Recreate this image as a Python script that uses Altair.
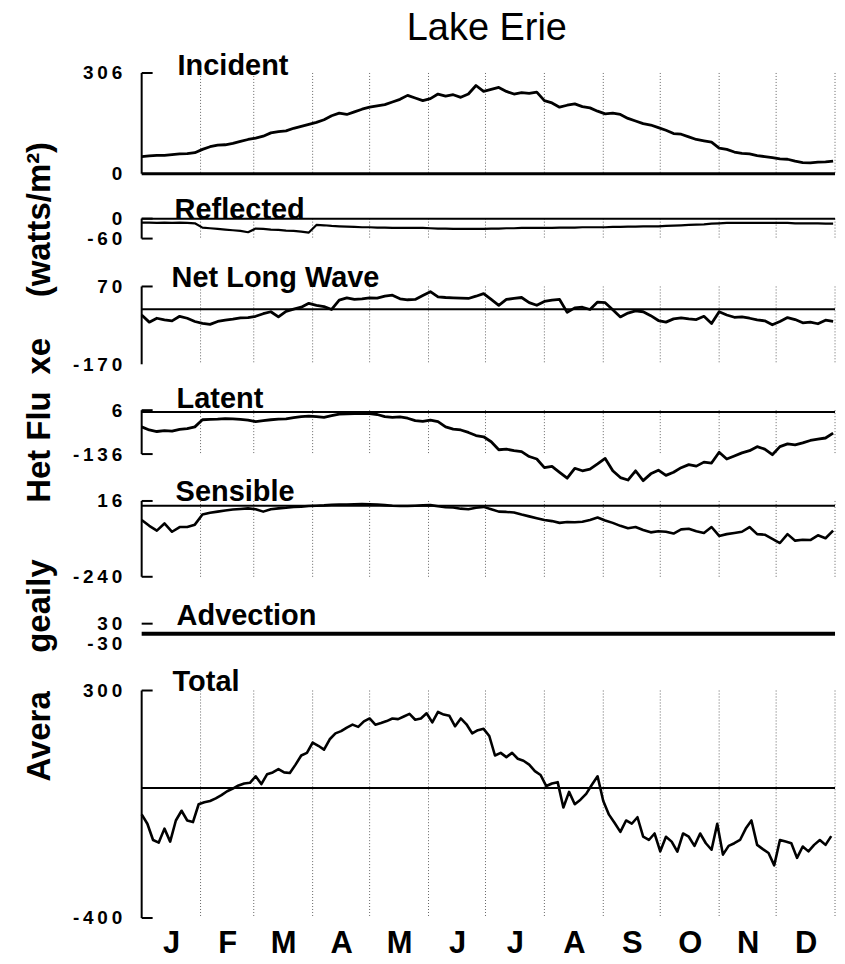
import altair as alt
import pandas as pd

FONT = "Liberation Sans"

# ---------------------------------------------------------------- data
MONTH_LETTERS = ["J", "F", "M", "A", "M", "J", "J", "A", "S", "O", "N", "D"]
MONTH_MID_DAYS = [15.5, 45, 74.5, 105, 135.5, 166, 196.5, 227.5, 258, 288.5, 319, 349.5]
MONTH_END_DAYS = [31, 59, 90, 120, 151, 181, 212, 243, 273, 304, 334, 365]

DAYS_4 = list(range(0, 365, 4))   # sampled every 4th day
DAYS_3 = list(range(0, 364, 3))   # sampled every 3rd day

INCIDENT = [
    52, 54, 56, 56, 58, 60, 61, 64,
    74, 82, 87, 88, 92, 98, 104, 108,
    114, 124, 128, 130, 138, 144, 150, 156,
    164, 176, 184, 180, 188, 196, 202, 206,
    210, 218, 226, 238, 230, 222, 228, 242,
    236, 240, 232, 242, 268, 250, 256, 262,
    250, 242, 246, 244, 248, 222, 215, 202,
    208, 212, 204, 200, 190, 182, 184, 180,
    168, 160, 152, 148, 140, 132, 122, 120,
    112, 104, 100, 96, 78, 74, 66, 62,
    60, 55, 52, 49, 45, 44, 38, 34,
    33, 35, 36, 38,
]

REFLECTED = [
    -12, -12, -13, -12, -13, -12, -13, -14,
    -27, -29, -31, -33, -35, -37, -41, -30,
    -31, -33, -34, -36, -37, -39, -42, -19,
    -20, -22, -23, -24, -25, -26, -26, -27,
    -27, -28, -28, -28, -28, -28, -29, -30,
    -30, -31, -31, -31, -31, -31, -30, -30,
    -29, -29, -28, -28, -28, -28, -28, -27,
    -27, -27, -26, -26, -26, -26, -25, -25,
    -24, -24, -23, -23, -23, -22, -21, -20,
    -19, -18, -17, -15, -14, -13, -13, -13,
    -13, -13, -13, -13, -13, -13, -14, -14,
    -14, -14, -15, -15,
]

NET_LONG_WAVE = [
    -18, -40, -28, -33, -36, -22, -28, -38,
    -44, -47, -38, -34, -31, -27, -26, -22,
    -14, -8, -24, -7, 0, 6, 18, 12,
    8, -1, 28, 35, 30, 32, 35, 34,
    40, 43, 32, 29, 30, 42, 54, 38,
    36, 35, 34, 33, 40, 48, 30, 12,
    30, 33, 36, 20, 12, 24, 28, 30,
    -10, 4, 6, -1, 22, 20, -2, -24,
    -12, -5, -8, -20, -35, -40, -30, -27,
    -30, -32, -22, -44, -8, -18, -25, -24,
    -28, -33, -36, -48, -38, -26, -32, -42,
    -40, -45, -34, -38,
]

LATENT = [
    -48, -58, -63, -60, -62, -56, -54, -48,
    -25, -24, -23, -21, -22, -24, -26, -31,
    -28, -25, -23, -22, -18, -15, -13, -15,
    -17, -12, -7, -6, -5, -4, -5, -8,
    -15, -17, -16, -20, -28, -30, -26, -31,
    -48, -55, -58, -66, -76, -80, -96, -122,
    -120, -125, -128, -144, -152, -180, -176, -195,
    -214, -182, -190, -185, -168, -150, -190, -212,
    -220, -190, -222, -200, -188, -205, -195, -180,
    -170, -175, -162, -165, -130, -152, -142, -132,
    -125, -112, -120, -138, -112, -103, -106, -100,
    -92, -88, -84, -68,
]

SENSIBLE = [
    -48, -68, -84, -60, -88, -72, -72, -64,
    -30, -24, -20, -16, -13, -11, -9, -12,
    -20, -12, -9, -7, -4, -3, -1, 0,
    1, 3, 4, 4, 5, 6, 5, 4,
    2, 0, -1, -1, 0, 1, 2, -2,
    -5, -6, -10, -12, -7, -4, -12, -20,
    -21, -23, -30, -36, -42, -48, -52, -58,
    -55, -56, -54, -48, -40, -50, -58, -68,
    -76, -72, -82, -90, -86, -88, -94, -80,
    -78, -86, -92, -72, -102, -96, -92, -88,
    -72, -96, -98, -112, -126, -96, -118, -115,
    -116, -100, -110, -84,
]

ADVECTION_DAYS = [0, 365]
ADVECTION = [0, 0]

TOTAL = [
    -81, -110, -160, -168, -125, -165, -100, -70,
    -100, -105, -50, -44, -40, -32, -22, -10,
    -2, 8, 14, 16, 36, 12, 42, 48,
    58, 48, 46, 72, 100, 108, 140, 130,
    118, 150, 168, 175, 186, 195, 188, 205,
    214, 195, 200, 206, 214, 212, 220, 228,
    210, 214, 230, 202, 234, 226, 222, 190,
    214, 196, 168, 178, 182, 160, 100, 108,
    95, 108, 90, 84, 72, 52, 40, 6,
    14, 18, -60, -12, -50, -36, -18, 10,
    36, -40, -82, -108, -135, -100, -110, -90,
    -150, -160, -140, -195, -150, -165, -196, -140,
    -150, -178, -140, -170, -190, -110, -205, -178,
    -170, -160, -125, -100, -175, -188, -200, -238,
    -160, -165, -170, -215, -180, -195, -175, -160,
    -175, -148,
]

# series: name, sample days, values, labelled axis range (top, bottom)
SERIES = [
    ("Incident", DAYS_4, INCIDENT, 306, 0),
    ("Reflected", DAYS_4, REFLECTED, 0, -60),
    ("Net Long Wave", DAYS_4, NET_LONG_WAVE, 70, -170),
    ("Latent", DAYS_4, LATENT, 6, -136),
    ("Sensible", DAYS_4, SENSIBLE, 16, -240),
    ("Advection", ADVECTION_DAYS, ADVECTION, 30, -30),
    ("Total", DAYS_3, TOTAL, 300, -400),
]

TITLE = "Lake Erie"
Y_TITLE_PIECES = ["Avera", "ge", "aily", "Het Flu", "xe", "(watts/m²)"]

# ---------------------------------------------------------------- layout
PLOT_W = 695
ORIGIN_X, ORIGIN_Y = 142, 60

# per panel: panel top/bottom px, px of the labelled top/bottom values,
# label position, line width, zero-line width, bracket ticks, bracket, grid
LAYOUT = [
    dict(ptop=60, pbot=195, top_px=72, bot_px=173, lx=178, ly=74, lw=2.8, zw=3.0, ticks="top", bracket=True, grid=True),
    dict(ptop=195, pbot=262, top_px=218, bot_px=238, lx=175, ly=218, lw=2.2, zw=2.0, ticks="both", bracket=True, grid=True),
    dict(ptop=262, pbot=385, top_px=286, bot_px=364, lx=172, ly=287, lw=2.8, zw=2.0, ticks="top", bracket=True, grid=True),
    dict(ptop=385, pbot=480, top_px=410, bot_px=454, lx=177, ly=408, lw=2.8, zw=2.0, ticks="both", bracket=True, grid=True),
    dict(ptop=480, pbot=605, top_px=501, bot_px=577, lx=176, ly=501, lw=2.6, zw=2.0, ticks="both", bracket=True, grid=True),
    dict(ptop=605, pbot=660, top_px=624, bot_px=644, lx=177, ly=625, lw=4.0, zw=0, ticks="top", bracket=False, grid=False),
    dict(ptop=660, pbot=922, top_px=691, bot_px=919, lx=173, ly=691, lw=2.6, zw=2.0, ticks="both", bracket=True, grid=True),
]

Y_TITLE_X = 40
Y_TITLE_CENTERS = [737, 634, 587, 447, 356, 219]

DAY_SCALE = alt.Scale(domain=[0, 365], nice=False, zero=False)


def spaced(text):
    return "\u2009".join(text)


def month_axis():
    letters = "[" + ",".join(f"'{m}'" for m in MONTH_LETTERS) + "]"
    mids = "[" + ",".join(str(d) for d in MONTH_MID_DAYS) + "]"
    return alt.Axis(
        values=MONTH_MID_DAYS, labelExpr=f"{letters}[indexof({mids}, datum.value)]",
        title=None, domain=False, ticks=False, tickSize=0, grid=False,
        labelFont=FONT, labelFontSize=31, labelFontWeight="bold", labelColor="black",
        labelPadding=8, labelFlush=False, labelOverlap=False,
    )


def make_panel(series, lay, first=False, last=False):
    name, days, values, top, bottom = series
    px_per_unit = (lay["bot_px"] - lay["top_px"]) / (top - bottom)
    y_hi = top + (lay["top_px"] - lay["ptop"]) / px_per_unit
    y_lo = bottom - (lay["pbot"] - lay["bot_px"]) / px_per_unit
    height = lay["pbot"] - lay["ptop"]
    yscale = alt.Scale(domain=[y_lo, y_hi], nice=False, zero=False)

    label_expr = (
        f"datum.value == {top} ? '{spaced(str(top))}' : "
        f"datum.value == {bottom} ? '{spaced(str(bottom))}' : ''"
    )
    # every layer carries the same axis definitions so they merge cleanly
    y_axis = alt.Axis(
        values=[top, bottom], labelExpr=label_expr, title=None,
        domain=False, ticks=False, tickSize=0, grid=False,
        labelFont=FONT, labelFontSize=19, labelFontWeight="bold", labelColor="black",
        labelPadding=20, labelOverlap=False,
    )
    x_axis = month_axis() if last else None

    def X(field):
        return alt.X(field, scale=DAY_SCALE, axis=x_axis)

    def Y(field):
        return alt.Y(field, scale=yscale, axis=y_axis)

    layers = []
    if lay["grid"]:
        grid_df = pd.DataFrame({"day": MONTH_END_DAYS, "hi": top, "lo": bottom})
        layers.append(
            alt.Chart(grid_df).mark_rule(color="#555", strokeWidth=0.9, strokeDash=[1, 2]).encode(
                x=X("day:Q"), y=Y("hi:Q"), y2="lo:Q",
            )
        )
    if lay["zw"] > 0:
        zero_df = pd.DataFrame({"start": [0], "end": [365], "zero": [0]})
        layers.append(
            alt.Chart(zero_df).mark_rule(color="black", strokeWidth=lay["zw"]).encode(
                x=X("start:Q"), x2="end:Q", y=Y("zero:Q"),
            )
        )
    if lay["bracket"]:
        br_df = pd.DataFrame({"hi": [top], "lo": [bottom]})
        layers.append(
            alt.Chart(br_df).mark_rule(color="black", strokeWidth=2).encode(
                x=alt.value(0), y=Y("hi:Q"), y2="lo:Q",
            )
        )
    tick_vals = [top] if lay["ticks"] == "top" else [top, bottom]
    layers.append(
        alt.Chart(pd.DataFrame({"tick": tick_vals})).mark_rule(color="black", strokeWidth=2).encode(
            x=alt.value(0), x2=alt.value(11), y=Y("tick:Q"),
        )
    )

    df = pd.DataFrame({"day": days, "flux": values})
    layers.append(
        alt.Chart(df).mark_line(color="black", strokeWidth=lay["lw"], strokeJoin="round").encode(
            x=X("day:Q"), y=Y("flux:Q"),
        )
    )

    layers.append(
        alt.Chart(pd.DataFrame({"label": [name]})).mark_text(
            align="left", baseline="alphabetic", font=FONT, fontSize=29,
            fontWeight="bold", color="black",
        ).encode(
            text="label:N",
            x=alt.value(lay["lx"] - ORIGIN_X),
            y=alt.value(lay["ly"] - lay["ptop"]),
        )
    )

    if first:
        layers.append(
            alt.Chart(pd.DataFrame({"t": [TITLE]})).mark_text(
                align="center", baseline="top", font=FONT, fontSize=38, color="black",
            ).encode(text="t:N", x=alt.value(488 - ORIGIN_X), y=alt.value(9 - ORIGIN_Y))
        )
        for piece, yc in zip(Y_TITLE_PIECES, Y_TITLE_CENTERS):
            layers.append(
                alt.Chart(pd.DataFrame({"t": [piece]})).mark_text(
                    align="center", baseline="middle", angle=270, font=FONT,
                    fontSize=33, fontWeight="bold", color="black",
                ).encode(text="t:N", x=alt.value(Y_TITLE_X - ORIGIN_X), y=alt.value(yc - ORIGIN_Y))
            )

    return alt.layer(*layers).properties(width=PLOT_W, height=height)


panels = [
    make_panel(s, lay, first=(i == 0), last=(i == len(SERIES) - 1))
    for i, (s, lay) in enumerate(zip(SERIES, LAYOUT))
]

chart = (
    alt.vconcat(*panels, spacing=0, bounds="flush")
    .properties(padding={"left": 24, "top": 9, "right": 8, "bottom": 10})
    .configure_view(stroke=None)
)

chart.save("out.html", embed_options={"renderer": "svg", "actions": False})
